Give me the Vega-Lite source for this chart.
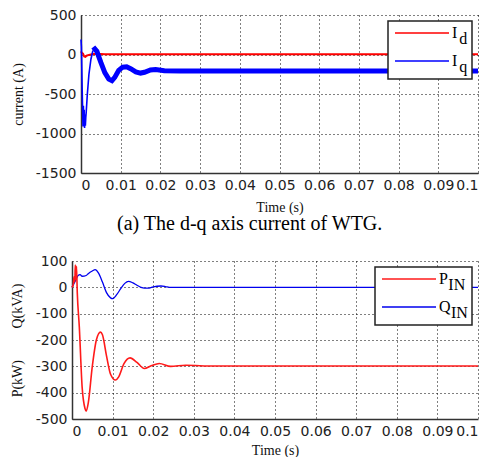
{
  "$schema": "https://vega.github.io/schema/vega-lite/v6.json",
  "background": "white",
  "padding": {"left": 10, "top": 8, "right": 5, "bottom": 0},
  "spacing": 20,
  "resolve": {"scale": {"color": "independent"}, "legend": {"color": "independent"}},
  "config": {
    "view": {"stroke": null},
    "axis": {
      "labelFont": "DejaVu Sans", "labelFontSize": 14, "labelColor": "#222", "labelPadding": 5,
      "labelExpr": "'' + datum.value",
      "titleFont": "Liberation Serif", "titleFontSize": 14, "titleFontWeight": "normal", "titleColor": "#111",
      "domainColor": "#333", "domainWidth": 1.5, "ticks": false,
      "grid": true, "gridColor": "#000", "gridDash": [1, 3], "gridOpacity": 1, "gridWidth": 1
    },
    "legend": {
      "orient": "top-right", "offset": 6, "title": null, "columnPadding": 0,
      "symbolType": "M-1,0H9.8", "symbolSize": 100, "symbolStrokeWidth": 1.3,
      "labelFont": "Liberation Serif", "labelFontSize": 16, "labelColor": "#000", "labelOffset": 44,
      "strokeColor": "#222", "fillColor": "white", "padding": 4, "rowPadding": 6
    }
  },
  "vconcat": [
    {
      "width": 397, "height": 158,
      "title": {"text": "(a) The d-q axis current of WTG.", "orient": "bottom", "font": "Liberation Serif", "fontSize": 20, "fontWeight": "normal", "color": "#000", "anchor": "middle", "frame": "bounds", "offset": 0},
      "data": {"values": [
        {"t": 0, "v": 40, "s": "Id"}, {"t": 0.0002, "v": 20, "s": "Id"}, {"t": 0.0005, "v": 10, "s": "Id"},
        {"t": 0.0008, "v": -25, "s": "Id"}, {"t": 0.0011, "v": -30, "s": "Id"}, {"t": 0.0014, "v": -15, "s": "Id"},
        {"t": 0.002, "v": -5, "s": "Id"}, {"t": 0.003, "v": 5, "s": "Id"}, {"t": 0.004, "v": 8, "s": "Id"},
        {"t": 0.006, "v": 3, "s": "Id"}, {"t": 0.1, "v": 3, "s": "Id"},
        {"t": 0, "v": 190, "s": "Iq"}, {"t": 0.0001, "v": 100, "s": "Iq"}, {"t": 0.0003, "v": -450, "s": "Iq"},
        {"t": 0.0005, "v": -910, "s": "Iq"}, {"t": 0.0006, "v": -650, "s": "Iq"}, {"t": 0.0007, "v": -860, "s": "Iq"},
        {"t": 0.0008, "v": -700, "s": "Iq"}, {"t": 0.0009, "v": -930, "s": "Iq"}, {"t": 0.001, "v": -760, "s": "Iq"},
        {"t": 0.0011, "v": -900, "s": "Iq"}, {"t": 0.0012, "v": -800, "s": "Iq"}, {"t": 0.0013, "v": -740, "s": "Iq"},
        {"t": 0.0016, "v": -500, "s": "Iq"}, {"t": 0.002, "v": -250, "s": "Iq"},
        {"t": 0.0025, "v": -60, "s": "Iq"}, {"t": 0.003, "v": 50, "s": "Iq"}, {"t": 0.0035, "v": 70, "s": "Iq"},
        {"t": 0.004, "v": 40, "s": "Iq"}, {"t": 0.005, "v": -100, "s": "Iq"}, {"t": 0.006, "v": -230, "s": "Iq"},
        {"t": 0.007, "v": -310, "s": "Iq"}, {"t": 0.0078, "v": -330, "s": "Iq"}, {"t": 0.0085, "v": -290, "s": "Iq"},
        {"t": 0.0095, "v": -200, "s": "Iq"}, {"t": 0.0105, "v": -160, "s": "Iq"}, {"t": 0.0115, "v": -155, "s": "Iq"},
        {"t": 0.0125, "v": -180, "s": "Iq"}, {"t": 0.0138, "v": -220, "s": "Iq"}, {"t": 0.015, "v": -235, "s": "Iq"},
        {"t": 0.016, "v": -225, "s": "Iq"}, {"t": 0.0175, "v": -195, "s": "Iq"}, {"t": 0.0188, "v": -190, "s": "Iq"},
        {"t": 0.021, "v": -205, "s": "Iq"}, {"t": 0.025, "v": -210, "s": "Iq"}, {"t": 0.05, "v": -210, "s": "Iq"},
        {"t": 0.1, "v": -210, "s": "Iq"}
      ]},
      "encoding": {
        "x": {"field": "t", "type": "quantitative", "scale": {"domain": [0, 0.1], "nice": false},
              "axis": {"values": [0, 0.01, 0.02, 0.03, 0.04, 0.05, 0.06, 0.07, 0.08, 0.09, 0.1], "title": "Time (s)", "titlePadding": 8}},
        "y": {"field": "v", "type": "quantitative", "scale": {"domain": [-1500, 500], "nice": false},
              "axis": {"values": [-1500, -1000, -500, 0, 500], "title": "current (A)", "titlePadding": 10}},
        "color": {"field": "s", "type": "nominal", "scale": {"domain": ["Id", "Iq"], "range": ["#ff0000", "#0000ff"]},
                  "legend": {"labelExpr": "datum.label == 'Id' ? ['I', '\u200b\u00a0\u2009d'] : ['I', '\u200b\u00a0\u2009q']",
                             "encode": {"labels": {"update": {"lineHeight": {"value": 6}}}, "legend": {"update": {"strokeWidth": {"value": 1.5}}}}}}
      },
      "layer": [
        {"transform": [{"filter": "datum.s == 'Id'"}], "mark": {"type": "line", "strokeWidth": 2}},
        {"transform": [{"filter": "datum.s == 'Iq' && datum.t <= 0.003"}], "mark": {"type": "line", "strokeWidth": 1.6}},
        {"transform": [{"filter": "datum.s == 'Iq' && datum.t >= 0.003"}], "mark": {"type": "line", "strokeWidth": 5}}
      ]
    },
    {
      "width": 397, "height": 158,
      "data": {"values": [
        {"t": 0, "v": 0, "s": "QIN"}, {"t": 0.0005, "v": 15, "s": "QIN"}, {"t": 0.001, "v": 30, "s": "QIN"},
        {"t": 0.0015, "v": 45, "s": "QIN"}, {"t": 0.002, "v": 48, "s": "QIN"}, {"t": 0.0025, "v": 42, "s": "QIN"},
        {"t": 0.0035, "v": 45, "s": "QIN"}, {"t": 0.004, "v": 52, "s": "QIN"}, {"t": 0.005, "v": 62, "s": "QIN"},
        {"t": 0.0057, "v": 67, "s": "QIN"}, {"t": 0.0065, "v": 55, "s": "QIN"}, {"t": 0.0075, "v": 20, "s": "QIN"},
        {"t": 0.0085, "v": -20, "s": "QIN"}, {"t": 0.0095, "v": -40, "s": "QIN"}, {"t": 0.01, "v": -43, "s": "QIN"},
        {"t": 0.011, "v": -28, "s": "QIN"}, {"t": 0.012, "v": -5, "s": "QIN"}, {"t": 0.013, "v": 15, "s": "QIN"},
        {"t": 0.0139, "v": 23, "s": "QIN"}, {"t": 0.015, "v": 17, "s": "QIN"}, {"t": 0.016, "v": 8, "s": "QIN"},
        {"t": 0.017, "v": 0, "s": "QIN"}, {"t": 0.0178, "v": -3, "s": "QIN"}, {"t": 0.019, "v": -3, "s": "QIN"},
        {"t": 0.02, "v": 2, "s": "QIN"}, {"t": 0.0219, "v": 5, "s": "QIN"}, {"t": 0.023, "v": 3, "s": "QIN"},
        {"t": 0.024, "v": 0, "s": "QIN"}, {"t": 0.1, "v": 0, "s": "QIN"},
        {"t": 0, "v": 0, "s": "PIN"}, {"t": 0.0003, "v": 10, "s": "PIN"}, {"t": 0.0005, "v": 40, "s": "PIN"},
        {"t": 0.0007, "v": 20, "s": "PIN"}, {"t": 0.0008, "v": 85, "s": "PIN"}, {"t": 0.001, "v": 30, "s": "PIN"},
        {"t": 0.0011, "v": 80, "s": "PIN"}, {"t": 0.0013, "v": -20, "s": "PIN"}, {"t": 0.0018, "v": -150, "s": "PIN"},
        {"t": 0.0025, "v": -380, "s": "PIN"}, {"t": 0.0032, "v": -460, "s": "PIN"}, {"t": 0.0035, "v": -470, "s": "PIN"},
        {"t": 0.004, "v": -440, "s": "PIN"}, {"t": 0.005, "v": -300, "s": "PIN"}, {"t": 0.006, "v": -200, "s": "PIN"},
        {"t": 0.007, "v": -170, "s": "PIN"}, {"t": 0.0075, "v": -180, "s": "PIN"}, {"t": 0.0085, "v": -260, "s": "PIN"},
        {"t": 0.0095, "v": -330, "s": "PIN"}, {"t": 0.0107, "v": -352, "s": "PIN"}, {"t": 0.0115, "v": -340, "s": "PIN"},
        {"t": 0.0128, "v": -290, "s": "PIN"}, {"t": 0.0143, "v": -268, "s": "PIN"}, {"t": 0.016, "v": -285, "s": "PIN"},
        {"t": 0.0178, "v": -308, "s": "PIN"}, {"t": 0.0195, "v": -298, "s": "PIN"}, {"t": 0.0215, "v": -289, "s": "PIN"},
        {"t": 0.0243, "v": -300, "s": "PIN"}, {"t": 0.028, "v": -296, "s": "PIN"}, {"t": 0.035, "v": -299, "s": "PIN"},
        {"t": 0.1, "v": -299, "s": "PIN"}
      ]},
      "encoding": {
        "x": {"field": "t", "type": "quantitative", "scale": {"domain": [0, 0.1], "nice": false, "range": [-9, 397]},
              "axis": {"values": [0, 0.01, 0.02, 0.03, 0.04, 0.05, 0.06, 0.07, 0.08, 0.09, 0.1], "title": "Time (s)", "titlePadding": 5}},
        "y": {"field": "v", "type": "quantitative", "scale": {"domain": [-500, 100], "nice": false},
              "axis": {"values": [-500, -400, -300, -200, -100, 0, 100], "offset": 9, "title": "P(kW)\u00a0\u00a0\u00a0\u00a0\u00a0\u00a0\u00a0\u00a0\u00a0Q(kVA)", "titlePadding": 11}},
        "color": {"field": "s", "type": "nominal", "scale": {"domain": ["PIN", "QIN"], "range": ["#ff1a1a", "#0000ee"]},
                  "legend": {"labelExpr": "datum.label == 'PIN' ? ['P', '\u200b\u00a0\u00a0\u200aIN'] : ['Q', '\u200b\u00a0\u00a0\u00a0IN']",
                             "encode": {"labels": {"update": {"lineHeight": {"value": 6}}}, "legend": {"update": {"strokeWidth": {"value": 1.5}}}}}}
      },
      "layer": [
        {"transform": [{"filter": "datum.s == 'QIN'"}], "mark": {"type": "line", "strokeWidth": 1.3, "interpolate": "monotone"}},
        {"transform": [{"filter": "datum.s == 'PIN'"}], "mark": {"type": "line", "strokeWidth": 1.6, "interpolate": "monotone"}}
      ]
    }
  ]
}
